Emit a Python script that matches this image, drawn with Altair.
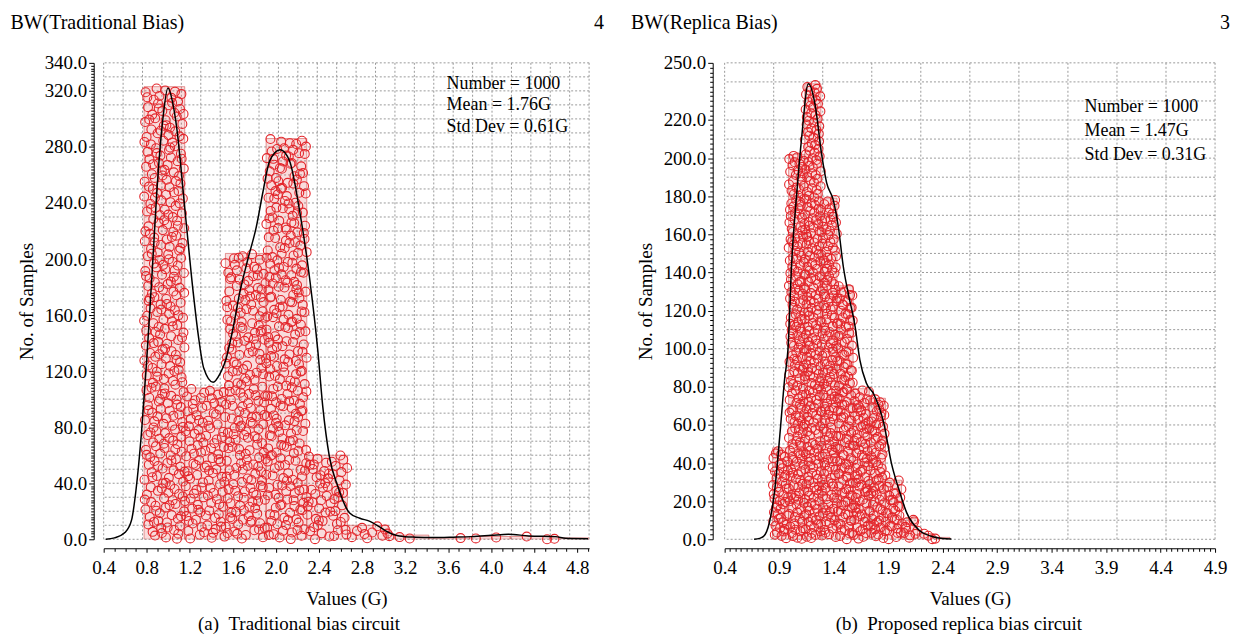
import altair as alt
import pandas as pd

FONT = "Liberation Serif"
RED = "#e3262b"

# ---------------- data ----------------
# (a) Traditional bias circuit
left_bin_edges = [0.775, 1.153, 1.531, 1.909, 2.287, 2.665, 3.043, 3.421, 3.799, 4.177, 4.555, 4.91]
left_counts = [323, 108, 204, 286, 60, 10, 3, 1, 2, 2, 1]
left_curve_x = [0.42, 0.5, 0.6, 0.66, 0.7, 0.75, 0.8, 0.85, 0.893, 0.95, 0.997, 1.04, 1.078,
                1.155, 1.232, 1.28, 1.33, 1.417, 1.48, 1.534, 1.6, 1.664, 1.74, 1.818, 1.88,
                1.942, 2.04, 2.127, 2.219, 2.312, 2.389, 2.435, 2.497, 2.574, 2.682, 2.78,
                2.868, 2.96, 3.02, 3.145, 3.3, 3.45, 3.65, 3.82, 4.0, 4.16, 4.35, 4.6, 4.69, 4.9]
left_curve_y = [0, 1, 5, 14, 35, 75, 128, 190, 247, 300, 322, 312, 294,
                235, 176, 145, 122, 112, 118, 128, 150, 176, 200, 223, 248,
                270, 278, 270, 235, 187, 135, 95, 59, 38, 19, 15,
                13, 9, 6, 2.4, 1.5, 1.2, 1.5, 1.9, 2.8, 3.6, 2.4, 1.9, 0.7, 0.4]
left_stats = ["Number = 1000", "Mean = 1.76G", "Std Dev = 0.61G"]
left_header = "BW(Traditional Bias)"
left_number = "4"
left_caption = "(a)\u00a0\u00a0Traditional bias circuit"
left_x_labels = [0.4, 0.8, 1.2, 1.6, 2.0, 2.4, 2.8, 3.2, 3.6, 4.0, 4.4, 4.8]
left_y_labels = [0, 40, 80, 120, 160, 200, 240, 280, 320, 340]

# (b) Proposed replica bias circuit
right_bin_edges = [0.839, 0.987, 1.135, 1.283, 1.431, 1.579, 1.727, 1.875, 2.023, 2.171, 2.319, 2.467]
right_counts = [48, 202, 239, 179, 133, 79, 74, 31, 11, 3, 1]
right_curve_x = [0.67, 0.72, 0.76, 0.81, 0.86, 0.91, 0.95, 0.98, 1.016, 1.061, 1.107, 1.168,
                 1.23, 1.29, 1.336, 1.397, 1.443, 1.489, 1.534, 1.596, 1.641, 1.7, 1.77,
                 1.86, 1.93, 2.0, 2.07, 2.18, 2.29, 2.4, 2.48]
right_curve_y = [0, 0.5, 1.7, 8.7, 26, 57, 84, 99, 146, 181, 211, 239,
                 228, 202, 187, 178, 164, 143, 129, 112, 94, 82, 76,
                 61, 40, 26, 14, 5, 1.7, 0.4, 0.1]
right_stats = ["Number = 1000", "Mean = 1.47G", "Std Dev = 0.31G"]
right_header = "BW(Replica Bias)"
right_number = "3"
right_caption = "(b)\u00a0\u00a0Proposed replica bias circuit"
right_x_labels = [0.4, 0.9, 1.4, 1.9, 2.4, 2.9, 3.4, 3.9, 4.4, 4.9]
right_y_labels = [0, 20, 40, 60, 80, 100, 120, 140, 160, 180, 200, 220, 250]


# ---------------- helpers ----------------
def halton(i, b):
    f, r = 1.0, 0.0
    while i > 0:
        f /= b
        r += f * (i % b)
        i //= b
    return r


def sample_cloud(edges, counts):
    """one circle per sample, spread inside its histogram bar"""
    rows = []
    k = 1
    for j, n in enumerate(counts):
        x0, x1 = edges[j], edges[j + 1]
        for _ in range(n):
            rows.append({"sx": x0 + (x1 - x0) * halton(k, 2), "sy": n * halton(k, 3)})
            k += 1
    return pd.DataFrame(rows)


def make_axis(ticks, labels, title, offset, major=6, minor=3, pad=2, tpad=8):
    ints = [int(round(v * 100)) for v in labels]
    test = f"indexof({ints}, round(datum.value*100)) >= 0"
    return alt.Axis(
        values=ticks,
        labelExpr=f"{test} ? format(datum.value, '.1f') : ''",
        tickSize={"condition": {"test": test, "value": major}, "value": minor},
        labelOverlap=False,
        labelFlush=False,
        grid=False,
        offset=offset,
        title=title,
        titlePadding=tpad,
        labelPadding=pad,
        labelFont=FONT,
        labelFontSize=19,
        labelColor="black",
        titleFont=FONT,
        titleFontSize=19,
        titleFontWeight="normal",
        titleColor="black",
        domainColor="black",
        tickColor="black",
    )


def text_layer(text, x, y, size, align="left", baseline="middle", line_height=None):
    kw = dict(font=FONT, fontSize=size, align=align, baseline=baseline, color="black")
    if line_height:
        kw["lineHeight"] = line_height
    return alt.Chart(pd.DataFrame({"a": [0]})).mark_text(**kw).encode(
        x=alt.value(x), y=alt.value(y), text=alt.value(text)
    )


def panel(edges, counts, cx, cy, xdom, ydom, width, height, n_vgrid, hgrid_step,
          x_ticks, x_labels, y_ticks, y_labels, y_offset,
          header, number, stats, stats_x, stats_y, stats_lh, caption, caption_x, header_x):
    xs = alt.Scale(domain=xdom, nice=False, zero=False)
    ys = alt.Scale(domain=ydom, nice=False, zero=False)
    xax = make_axis(x_ticks, x_labels, "Values (G)", 9, major=4, minor=3, pad=6, tpad=12)
    yax = make_axis(y_ticks, y_labels, "No. of Samples", y_offset, major=5, minor=3, pad=2, tpad=8)

    vgrid = [xdom[0] + (xdom[1] - xdom[0]) * i / n_vgrid for i in range(n_vgrid + 1)]
    hgrid = list(range(0, int(ydom[1]) + 1, hgrid_step))
    gstyle = dict(color="#9a9a9a", strokeDash=[2, 2], strokeWidth=1)

    g_v = alt.Chart(pd.DataFrame({"g": vgrid})).mark_rule(**gstyle).encode(
        x=alt.X("g:Q", scale=xs, axis=xax))
    g_h = alt.Chart(pd.DataFrame({"g": hgrid})).mark_rule(**gstyle).encode(
        y=alt.Y("g:Q", scale=ys, axis=yax))

    bins = pd.DataFrame({"x0": edges[:-1], "x1": edges[1:], "n": counts, "base": [0] * len(counts)})
    bars = alt.Chart(bins).mark_rect(
        fill="#e03c3c", fillOpacity=0.18, stroke="#d04848", strokeOpacity=0.55, strokeWidth=1, clip=True
    ).encode(
        x=alt.X("x0:Q", scale=xs, axis=xax), x2="x1",
        y=alt.Y("n:Q", scale=ys, axis=yax), y2="base",
    )

    cloud = sample_cloud(edges, counts)
    pts = alt.Chart(cloud).mark_point(
        shape="circle", filled=False, color=RED, size=80, strokeWidth=1.1, opacity=1
    ).encode(
        x=alt.X("sx:Q", scale=xs, axis=xax),
        y=alt.Y("sy:Q", scale=ys, axis=yax),
    )

    curve = alt.Chart(pd.DataFrame({"cx": cx, "cy": cy})).mark_line(
        color="black", strokeWidth=1.5, interpolate="monotone"
    ).encode(
        x=alt.X("cx:Q", scale=xs, axis=xax),
        y=alt.Y("cy:Q", scale=ys, axis=yax),
    )

    texts = [
        text_layer(header, header_x, -40, 20),
        text_layer(number, width + 10, -40, 20, align="center"),
        text_layer(stats, stats_x, stats_y, 18, baseline="top", line_height=stats_lh),
        text_layer(caption, caption_x, height + 85, 19, align="center"),
    ]
    return alt.layer(g_v, g_h, bars, pts, curve, *texts).properties(width=width, height=height)


left = panel(
    left_bin_edges, left_counts, left_curve_x, left_curve_y,
    [0.4, 4.91], [0, 340], 487, 478, 25, 10,
    [round(0.4 + 0.1 * i, 2) for i in range(46)], left_x_labels,
    [2 * i for i in range(171)], left_y_labels, 10,
    left_header, left_number, left_stats, 344, 12, 21.5, left_caption, 196, -93.5,
)
right = panel(
    right_bin_edges, right_counts, right_curve_x, right_curve_y,
    [0.4, 4.9], [0, 250], 492, 478, 10, 10,
    [round(0.4 + 0.05 * i, 2) for i in range(91)], right_x_labels,
    [2.5 * i for i in range(101)], right_y_labels, 12,
    right_header, right_number, right_stats, 361, 35, 24, right_caption, 235, -94,
)

chart = alt.hconcat(left, right, spacing=27).properties(
    padding={"left": 2, "top": 4, "right": 0, "bottom": 0}
).configure_view(stroke=None)

chart.save("out.html", embed_options={"renderer": "svg", "actions": False})
